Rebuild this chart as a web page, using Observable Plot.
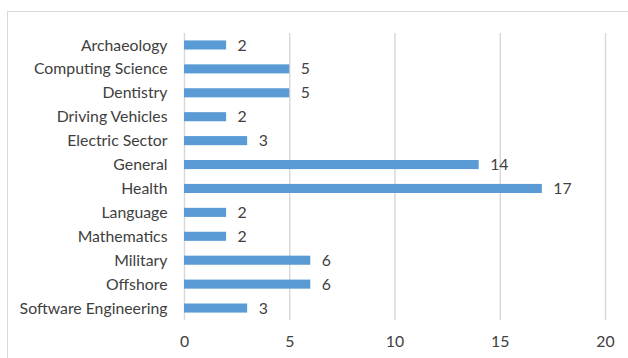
<!DOCTYPE html>
<html>
<head>
<meta charset="utf-8">
<script src="https://cdn.jsdelivr.net/npm/d3@7"></script>
<script src="https://cdn.jsdelivr.net/npm/@observablehq/plot@0.6"></script>
<style>
  html, body { margin: 0; padding: 0; background: #fff; }
  #wrap { position: relative; width: 628px; height: 358px; overflow: hidden; }
  #frame { position: absolute; left: 7px; top: 11px; width: 700px; height: 400px;
           border: 1.5px solid #d9d9d9; box-sizing: border-box; }
  #chart { position: absolute; left: 0; top: 0; }
</style>
</head>
<body>
<div id="wrap"><div id="frame"></div><div id="chart"></div></div>
<script>
const categories = ["Archaeology", "Computing Science", "Dentistry", "Driving Vehicles",
  "Electric Sector", "General", "Health", "Language", "Mathematics", "Military",
  "Offshore", "Software Engineering"];
const values = [2, 5, 5, 2, 3, 14, 17, 2, 2, 6, 6, 3];
const xTicks = [0, 5, 10, 15, 20];

const data = categories.map((c, i) => ({category: c, value: values[i]}));

const fs = 15.8;
const chart = Plot.plot({
  width: 628,
  height: 358,
  marginLeft: 184,
  marginRight: 23,
  marginTop: 33,
  marginBottom: 38,
  style: {fontFamily: "Lato, 'Open Sans', sans-serif", fontSize: fs + "px", color: "#404040", background: "transparent"},
  x: {domain: [0, 20], ticks: xTicks, round: false},
  y: {domain: categories, paddingInner: 0.62, paddingOuter: 0.31, round: false},
  marks: [
    Plot.ruleX(xTicks, {stroke: "#d9d9d9", strokeWidth: 1.5}),
    Plot.barX(data, {x: "value", y: "category", fill: "#5b9bd5"}),
    Plot.text(data, {x: "value", y: "category", text: d => String(d.value),
      textAnchor: "start", dx: 11, fill: "#404040", fontSize: fs}),
    Plot.axisX({ticks: xTicks, tickSize: 0, tickPadding: 15, fontSize: fs, label: null}),
    Plot.axisY({tickSize: 0, tickPadding: 17, fontSize: fs, label: null})
  ]
});
document.getElementById("chart").appendChild(chart);
</script>
</body>
</html>
